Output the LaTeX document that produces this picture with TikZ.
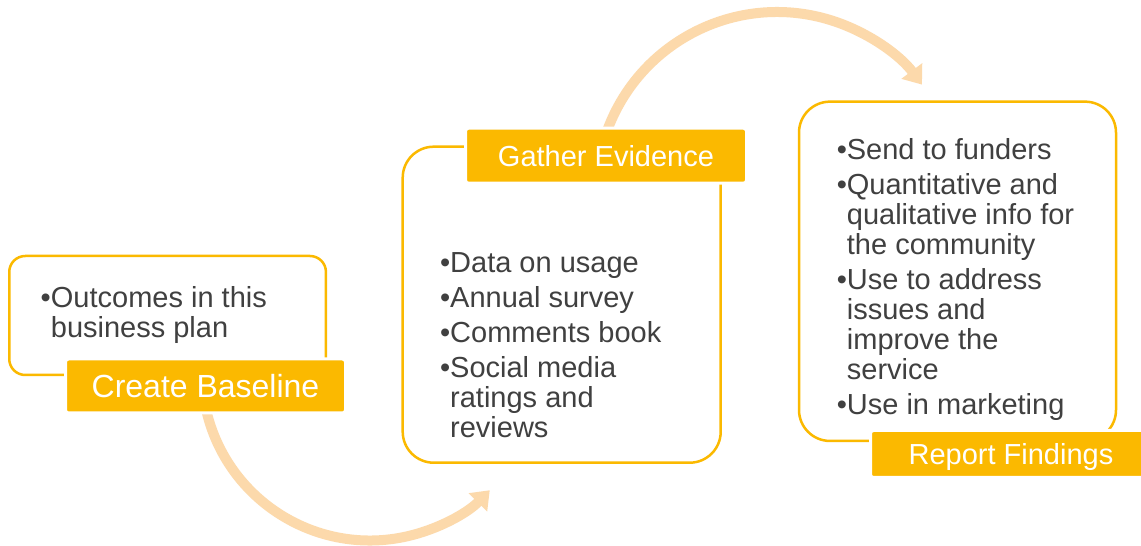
\documentclass[tikz,border=0pt]{standalone}
\usepackage{fontspec}
\setmainfont{Liberation Sans}
\usetikzlibrary{arrows.meta}
\definecolor{gold}{RGB}{251,185,0}
\definecolor{peach}{RGB}{252,217,171}
\definecolor{bodygray}{RGB}{64,64,64}
\newcommand{\itembullet}{\leavevmode\llap{•}}

\begin{document}
\begin{tikzpicture}[x=1pt,y=1pt,
  panel/.style={draw=gold, line width=2.5pt, fill=white, inner sep=0pt},
  tag/.style={fill=gold, draw=white, line width=3pt, rounded corners=3pt,
    text=white, inner sep=0pt, text height=21pt, text depth=0pt,
    font=\fontsize{29}{30}\selectfont},
  items/.style={anchor=base west, inner sep=0pt, text=bodygray,
    font=\fontsize{29}{30}\selectfont},
  flow/.style={draw=peach, line width=10pt,
    -{Triangle[width=25pt,length=17pt]}}]

% page
\fill[white] (0,0) rectangle (1141,546);
\useasboundingbox (0,0) rectangle (1141,546);

% stage panels
\node[panel, rounded corners=16pt, minimum width=316.7pt, minimum height=119pt]
  (box1) at (167.6,230.5) {};
\node[panel, rounded corners=31pt, minimum width=318pt, minimum height=316pt]
  (box2) at (561.7,241.3) {};
\node[panel, rounded corners=31pt, minimum width=317pt, minimum height=339.3pt]
  (box3) at (957.5,274.7) {};

% bullet lists
\node[items] (list1) at (50.7,238) {\parbox[t]{270pt}{%
  \itembullet Outcomes in this\\business plan}};
\node[items] (list2) at (450,273.3) {\parbox[t]{260pt}{%
  \itembullet Data on usage\\[5pt]%
  \itembullet Annual survey\\[5pt]%
  \itembullet Comments book\\[5pt]%
  \itembullet Social media\\ratings and\\reviews}};
\node[items] (list3) at (846.7,386.7) {\parbox[t]{260pt}{%
  \itembullet Send to funders\\[5pt]%
  \itembullet Quantitative and\\qualitative info for\\the community\\[5pt]%
  \itembullet Use to address\\issues and\\improve the\\service\\[5pt]%
  \itembullet Use in marketing}};

% curved arrows between stages
\coordinate (a1s) at (206.2,136);
\coordinate (a2s) at (605.6,411);
\draw[flow] (a1s) arc[start angle=192.9, end angle=315.5, radius=168];
\draw[flow] (a2s) arc[start angle=161.3, end angle=36.8, radius=181];

% stage titles
\node[tag, minimum width=280pt, minimum height=54pt, text height=23pt,
  font=\fontsize{32}{34}\selectfont] (tag1) at (205.5,160) {Create Baseline};
\node[tag, minimum width=281pt, minimum height=55pt] (tag2) at (606,390.3) {Gather Evidence};
\node[tag, minimum width=281pt, minimum height=47pt] (tag3) at (1011,92) {Report Findings};
\end{tikzpicture}
\end{document}
